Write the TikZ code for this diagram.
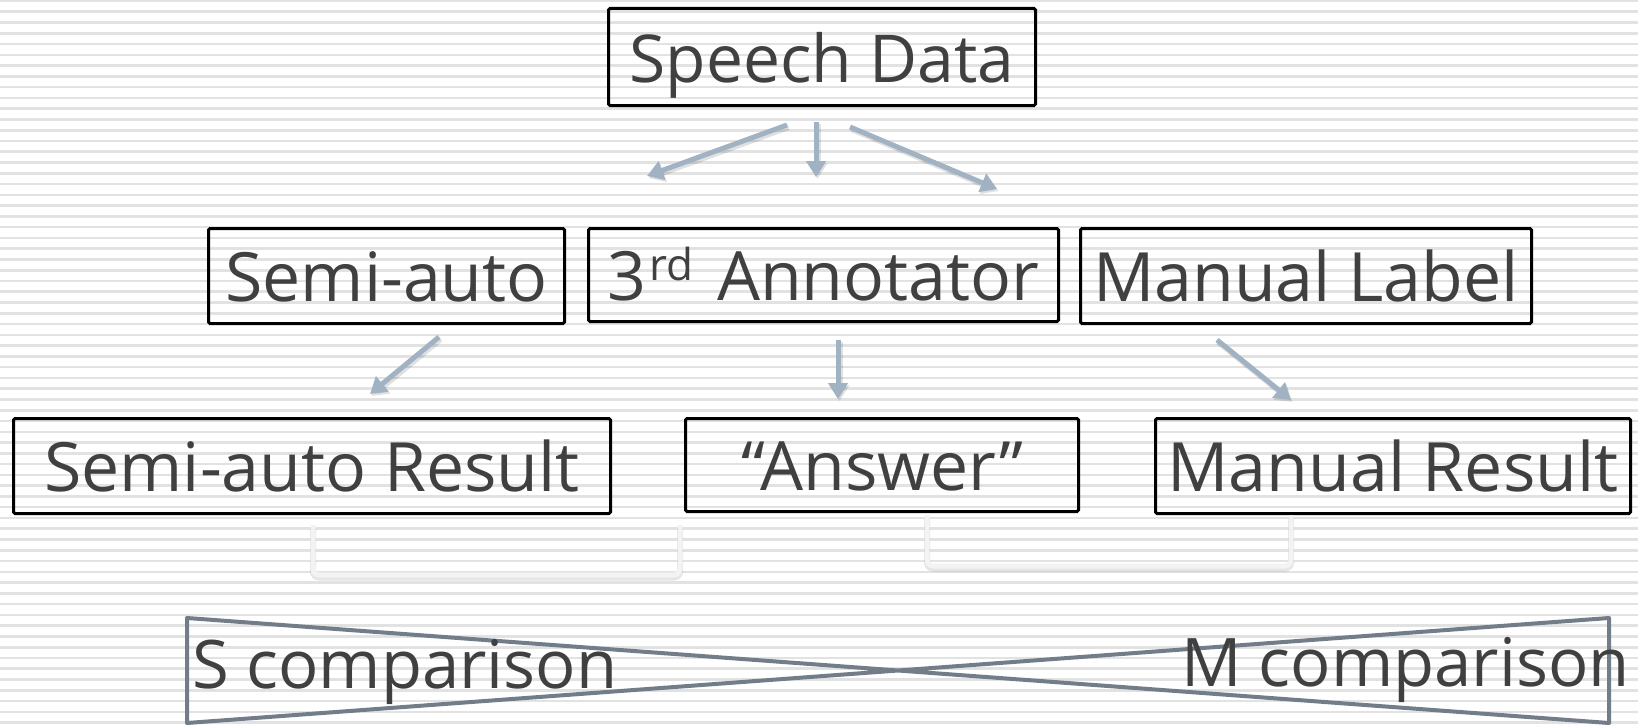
\documentclass[tikz,border=0pt]{standalone}
\usepackage{fontspec}
\setmainfont{Open Sans}
\usetikzlibrary{arrows.meta}

\definecolor{textc}{RGB}{64,64,64}
\definecolor{arrowc}{RGB}{161,178,195}
\definecolor{xline}{RGB}{114,125,137}
\definecolor{bracketc}{RGB}{243,243,243}
\definecolor{stripec}{RGB}{226,226,226}

\begin{document}
\begin{tikzpicture}[x=1pt,y=-1pt,
  stripe/.style={draw=stripec, line width=2.6pt},
  box/.style={draw=black, line width=3pt, rounded corners=1.5pt, inner sep=0pt,
    text=textc, text height=50pt, text depth=0pt, font=\fontsize{68}{80}\selectfont},
  cmp/.style={inner sep=0pt, text=textc, font=\fontsize{67}{78}\selectfont},
  arr/.style={draw=arrowc, line width=5pt, -{Triangle[length=16pt,width=19pt]}},
  arrshadow/.style={draw=black, opacity=0.12, line width=6pt, -{Triangle[length=16pt,width=19pt]}},
  bracket/.style={draw=bracketc, line width=5pt, rounded corners=6pt},
  brshadow/.style={draw=black, opacity=0.10, line width=6pt, rounded corners=6pt},
  cross/.style={draw=xline, line width=4pt, line join=round}]

\useasboundingbox (0,0) rectangle (1638,725);
\clip (0,0) rectangle (1638,725);

% striped backdrop
\fill[white] (0,0) rectangle (1638,725);
\foreach \i in {0,...,67}{
  \draw[stripe] (0,{1+\i*10.77}) -- (1638,{1+\i*10.77});
}

% boxes
\node[box, minimum width=427pt, minimum height=97pt, font=\fontsize{66}{78}\selectfont] (sd) at (822,57) {Speech Data};

\node[box, minimum width=356pt, minimum height=95pt] (sa) at (386.5,276) {Semi-auto};
\node[box, minimum width=470pt, minimum height=93pt] (an) at (823.5,275)
  {3\hspace{3pt}\raisebox{20pt}{\fontsize{44}{44}\selectfont rd}\hspace{6pt} Annotator};
\node[box, minimum width=451pt, minimum height=95pt] (ml) at (1306,276) {Manual Label};

\node[box, minimum width=597pt, minimum height=95pt] (sr) at (312,466) {Semi-auto Result};
\node[box, minimum width=393pt, minimum height=93pt] (ans) at (882,465) {“Answer”};
\node[box, minimum width=475pt, minimum height=95pt] (mr) at (1393,466) {Manual Result};

% arrow end points
\coordinate (a1s) at (787,125);  \coordinate (a1e) at (647,176);
\coordinate (a2s) at (816,122);  \coordinate (a2e) at (816,177);
\coordinate (a3s) at (850,127);  \coordinate (a3e) at (997,189);
\coordinate (a4s) at (439,337);  \coordinate (a4e) at (370,394);
\coordinate (a5s) at (838,340);  \coordinate (a5e) at (838,399);
\coordinate (a6s) at (1217,340); \coordinate (a6e) at (1291,400);

\foreach \s/\e in {a1s/a1e,a2s/a2e,a3s/a3e,a4s/a4e,a5s/a5e,a6s/a6e}{
  \draw[arrshadow, transform canvas={shift={(1.5pt,-2pt)}}] (\s) -- (\e);
  \draw[arr] (\s) -- (\e);
}

% brackets pairing the results
\coordinate (b1a) at (313,525); \coordinate (b1b) at (313,575);
\coordinate (b1c) at (680,575); \coordinate (b1d) at (680,525);
\coordinate (b2a) at (927,515); \coordinate (b2b) at (927,566);
\coordinate (b2c) at (1291,566); \coordinate (b2d) at (1291,515);
\draw[brshadow, transform canvas={shift={(0pt,-2.5pt)}}] (b1a) -- (b1b) -- (b1c) -- (b1d);
\draw[brshadow, transform canvas={shift={(0pt,-2.5pt)}}] (b2a) -- (b2b) -- (b2c) -- (b2d);
\draw[bracket] (b1a) -- (b1b) -- (b1c) -- (b1d);
\draw[bracket] (b2a) -- (b2b) -- (b2c) -- (b2d);

% crossed frame at the bottom
\draw[cross] (187,618) -- (1609,723) -- (1609,618) -- (187,723) -- cycle;

\node[cmp, anchor=base west] (sc) at (192,688) {S comparison};
\node[cmp, anchor=base east] (mc) at (1630,686) {M comparison};

\end{tikzpicture}
\end{document}
